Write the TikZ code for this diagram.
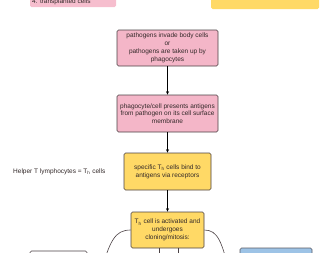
\documentclass[tikz,border=0pt]{standalone}
\usepackage{fontspec}
\setmainfont{Liberation Sans}
\usetikzlibrary{arrows.meta}
\definecolor{pinkfill}{RGB}{244,182,200}
\definecolor{pinklight}{RGB}{246,190,206}
\definecolor{yellowfill}{RGB}{255,217,102}
\definecolor{bluefill}{RGB}{157,195,230}
\definecolor{boxline}{RGB}{75,65,68}
\definecolor{txt}{RGB}{50,40,40}
\begin{document}
\begin{tikzpicture}[x=1pt,y=-1pt,
  box/.style={draw=boxline, line width=0.6pt, rounded corners=1.5pt, align=center,
    font=\fontsize{6.5}{7.8}\selectfont, text=txt, inner sep=0pt},
  pinkbox/.style={box, fill=pinkfill, minimum width=101pt, minimum height=36pt},
  yellowbox/.style={box, fill=yellowfill},
  arr/.style={draw=black, line width=0.6pt, -{Stealth[length=3.5pt,width=3pt]}},
  link/.style={draw=boxline, line width=0.6pt},
  lbl/.style={font=\fontsize{6.5}{7.8}\selectfont, text=txt, inner sep=0pt}]
\useasboundingbox (0,0) rectangle (336,252);
\clip (0,0) rectangle (336,252);
% top partial boxes
\node[fill=pinklight, rounded corners=1.5pt, minimum width=86pt, minimum height=30pt, inner sep=0pt] (tl) at (73,-8) {};
\node[lbl, anchor=base west] (tltext) at (32,3) {4. transplanted cells};
\node[fill=yellowfill, rounded corners=1.5pt, minimum width=108pt, minimum height=30pt, inner sep=0pt] (tr) at (265,-6) {};
% main chain
\node[pinkbox] (b1) at (167.5,48) {pathogens invade body cells\\or\\pathogens are taken up by\\phagocytes};
\node[pinkbox, minimum height=37pt] (b2) at (167.5,113.5) {phagocyte/cell presents antigens\\from pathogen on its cell surface\\membrane};
\node[yellowbox, minimum width=87pt, minimum height=37pt] (b3) at (167.5,171.5) {specific T\textsubscript{h} cells bind to\\antigens via receptors};
\node[yellowbox, minimum width=73pt, minimum height=36pt] (b4) at (167.5,230) {T\textsubscript{h} cell is activated and\\undergoes\\cloning/mitosis:};
\node[lbl, anchor=west] (helper) at (13,172) {Helper T lymphocytes = T\textsubscript{h} cells};
% bottom partial boxes
\node[box, fill=white, minimum width=57pt, minimum height=30pt] (bl) at (58.5,266) {};
\node[box, draw=boxline!80!bluefill, fill=bluefill, minimum width=72pt, minimum height=30pt] (br) at (276,263) {};
\draw[arr] (b1) -- (b2);
\draw[arr] (b2) -- (b3);
\draw[arr] (b3) -- (b4);
% branches leaving the frame
\coordinate (c1) at (159,270);
\coordinate (c2) at (178,270);
\coordinate (cl) at (100,275);
\coordinate (cr) at (230,275);
\draw[link] (b4.south -| c1) -- (c1);
\draw[link] (b4.south -| c2) -- (c2);
\draw[link] (b4.west |- 0,230) .. controls (115,230) and (110,240) .. (cl);
\draw[link] (b4.east |- 0,230) .. controls (218,230) and (222,242) .. (cr);
\end{tikzpicture}
\end{document}
